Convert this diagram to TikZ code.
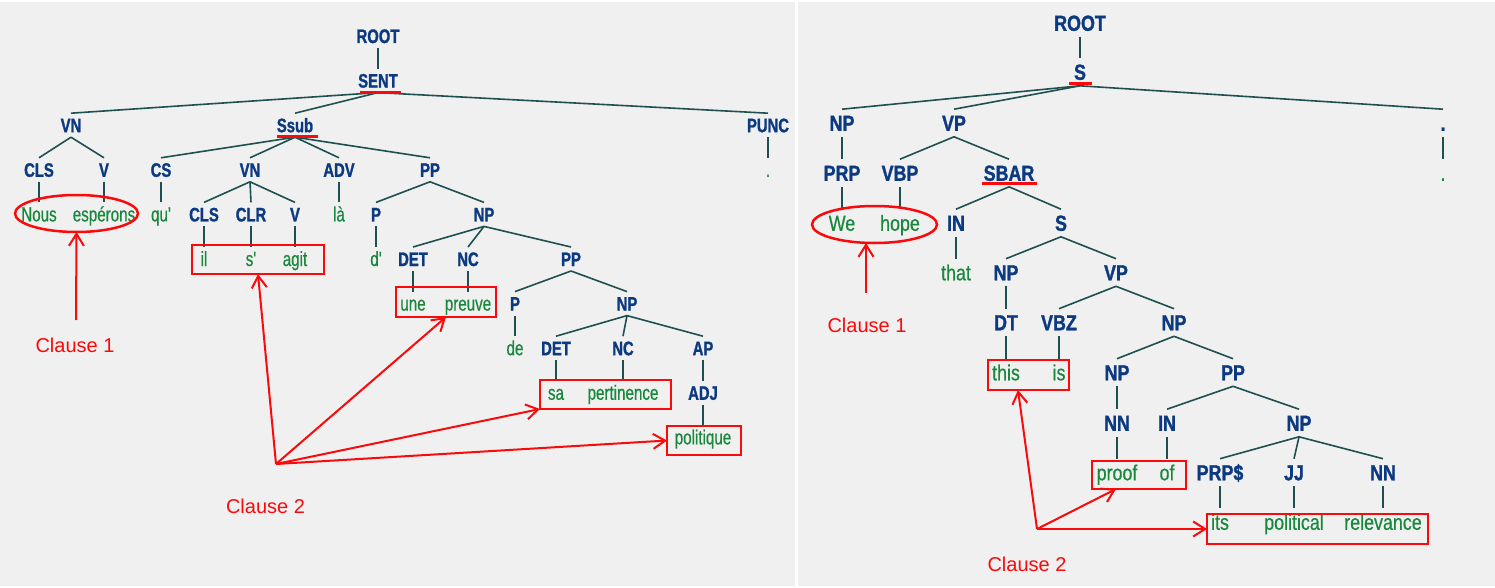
\documentclass[tikz,border=0pt]{standalone}
\usepackage{fontspec}
\setmainfont{Liberation Sans}
\newfontfamily\labf[FakeStretch=0.74,FakeBold=0.5,Ligatures=TeXOff]{Liberation Sans}
\newfontfamily\labbf[FakeStretch=0.76,FakeBold=1.3,Ligatures=TeXOff]{Liberation Sans Bold}
\newfontfamily\rlabf[FakeStretch=0.82,FakeBold=0.5,Ligatures=TeXOff]{Liberation Sans}
\newfontfamily\rlabbf[FakeStretch=0.82,FakeBold=1.3,Ligatures=TeXOff]{Liberation Sans Bold}
\usetikzlibrary{arrows.meta,shapes.geometric}
\definecolor{bgc}{RGB}{240,240,240}
\definecolor{labblue}{RGB}{12,58,128}
\definecolor{wgreen}{RGB}{25,135,60}
\definecolor{tline}{RGB}{30,80,80}
\definecolor{mred}{RGB}{250,10,10}
\tikzset{
 lab/.style={font=\labbf\fontsize{19.5}{22}\selectfont, text=labblue, inner sep=0pt, outer xsep=0pt, outer ysep=5pt, text height=14pt, text depth=0pt, anchor=base},
 wrd/.style={font=\labf\fontsize{20.5}{22}\selectfont, text=wgreen, inner sep=0pt, outer xsep=0pt, outer ysep=5pt, text height=14pt, text depth=0pt, anchor=base},
 rlab/.style={lab, font=\rlabbf\fontsize{21.8}{24}\selectfont, text height=15.6pt, outer ysep=6pt},
 rwrd/.style={wrd, font=\rlabf\fontsize{21.8}{24}\selectfont, text height=15.6pt, outer ysep=6pt},
 edge/.style={draw=tline, line width=1.6pt},
 uline/.style={draw=mred, line width=3pt},
 rbox/.style={draw=mred, line width=2.5pt, rectangle, inner sep=0pt, outer sep=0pt},
 rell/.style={draw=mred, line width=2.5pt, ellipse, inner sep=0pt, outer sep=0pt},
 rarrow/.style={draw=mred, line width=2pt, -{Straight Barb[length=12pt,width=15pt]}},
 clause/.style={font=\fontsize{20}{24}\selectfont, text=mred, inner sep=0pt, anchor=base}
}
\begin{document}
\begin{tikzpicture}[x=1pt,y=-1pt]
\useasboundingbox (0,0) rectangle (1495,588);
\fill[white] (0,0) rectangle (1495,588);
\fill[bgc] (0,2) rectangle (794.5,586);
\fill[bgc] (797.5,2) rectangle (1495,586);
% ---------- left tree ----------
\node[lab] (Lroot) at (378,43) {ROOT};
\node[lab] (Lsent) at (378,87.6) {SENT};
\node[lab] (Lvn1) at (71,132.2) {VN};
\node[lab] (Lssub) at (295,132.2) {Ssub};
\node[lab] (Lpunc) at (768,132.2) {PUNC};
\node[lab] (Lcls1) at (39,176.8) {CLS};
\node[lab] (Lv1) at (104,176.8) {V};
\node[lab] (Lcs) at (161,176.8) {CS};
\node[lab] (Lvn2) at (250,176.8) {VN};
\node[lab] (Ladv) at (339,176.8) {ADV};
\node[lab] (Lpp1) at (430,176.8) {PP};
\node[wrd] (Ldot) at (768,176.8) {.};
\node[wrd] (Lnous) at (39,221.4) {Nous};
\node[wrd] (Lesp) at (104,221.4) {espérons};
\node[wrd] (Lqu) at (161,221.4) {qu'};
\node[lab] (Lcls2) at (204,221.4) {CLS};
\node[lab] (Lclr) at (251,221.4) {CLR};
\node[lab] (Lv2) at (295,221.4) {V};
\node[wrd] (Lla) at (339,221.4) {là};
\node[lab] (Lp1) at (376,221.4) {P};
\node[lab] (Lnp1) at (484,221.4) {NP};
\node[wrd] (Lil) at (204,266) {il};
\node[wrd] (Ls) at (251,266) {s'};
\node[wrd] (Lagit) at (295,266) {agit};
\node[wrd] (Ld) at (376,266) {d'};
\node[lab] (Ldet1) at (413,266) {DET};
\node[lab] (Lnc1) at (468,266) {NC};
\node[lab] (Lpp2) at (571,266) {PP};
\node[wrd] (Lune) at (413,310.6) {une};
\node[wrd] (Lpreuve) at (468,310.6) {preuve};
\node[lab] (Lp2) at (515,310.6) {P};
\node[lab] (Lnp2) at (627,310.6) {NP};
\node[wrd] (Lde) at (515,355.2) {de};
\node[lab] (Ldet2) at (556,355.2) {DET};
\node[lab] (Lnc2) at (623,355.2) {NC};
\node[lab] (Lap) at (703,355.2) {AP};
\node[wrd] (Lsa) at (556,399.8) {sa};
\node[wrd] (Lpert) at (623,399.8) {pertinence};
\node[lab] (Ladj) at (703,399.8) {ADJ};
\node[wrd] (Lpol) at (703,444.4) {politique};
\foreach \a/\b in {Lroot/Lsent, Lsent/Lvn1, Lsent/Lssub, Lsent/Lpunc, Lvn1/Lcls1, Lvn1/Lv1, Lcls1/Lnous, Lv1/Lesp, Lssub/Lcs, Lssub/Lvn2, Lssub/Ladv, Lssub/Lpp1, Lcs/Lqu, Lvn2/Lcls2, Lvn2/Lclr, Lvn2/Lv2, Lcls2/Lil, Lclr/Ls, Lv2/Lagit, Ladv/Lla, Lpp1/Lp1, Lpp1/Lnp1, Lp1/Ld, Lnp1/Ldet1, Lnp1/Lnc1, Lnp1/Lpp2, Ldet1/Lune, Lnc1/Lpreuve, Lpp2/Lp2, Lpp2/Lnp2, Lp2/Lde, Lnp2/Ldet2, Lnp2/Lnc2, Lnp2/Lap, Ldet2/Lsa, Lnc2/Lpert, Lap/Ladj, Ladj/Lpol, Lpunc/Ldot}
  \draw[edge] (\a.south) -- (\b.north);
\draw[uline] ([xshift=-18pt,yshift=-4.5pt]Lsent.base) -- ([xshift=23pt,yshift=-4.5pt]Lsent.base);
\draw[uline] ([xshift=-18pt,yshift=-4pt]Lssub.base) -- ([xshift=23pt,yshift=-4pt]Lssub.base);
% annotations left
\node[rell, minimum width=123pt, minimum height=37pt] (E1) at (76.5,213.5) {};
\node[rbox, minimum width=132pt, minimum height=29pt] (B1) at (258,259.5) {};
\node[rbox, minimum width=100pt, minimum height=30pt] (B2) at (446,302) {};
\node[rbox, minimum width=131pt, minimum height=29pt] (B3) at (605.5,394.5) {};
\node[rbox, minimum width=74pt, minimum height=29pt] (B4) at (704,440.5) {};
\node[clause] (C1) at (75,352) {Clause 1};
\node[clause] (C2) at (265.5,513) {Clause 2};
\coordinate (A1) at (76,320);
\coordinate (O2) at (276,464);
\draw[rarrow] (A1) -- (E1.south);
\draw[rarrow] (O2) -- (B1.south);
\draw[rarrow] (O2) -- (B2.south);
\draw[rarrow] (O2) -- (B3.south west);
\draw[rarrow] (O2) -- (B4.west);
% ---------- right tree ----------
\node[rlab] (Rroot) at (1080,30.8) {ROOT};
\node[rlab] (Rs1) at (1080,79.8) {S};
\node[rlab] (Rnp1) at (842,130.8) {NP};
\node[rlab] (Rvp1) at (954,130.8) {VP};
\node[rlab] (Rdot) at (1443,130.8) {.};
\node[rlab] (Rprp) at (842,180.8) {PRP};
\node[rlab] (Rvbp) at (900,180.8) {VBP};
\node[rlab] (Rsbar) at (1009,180.8) {SBAR};
\node[rwrd] (Rdotw) at (1443,180.8) {.};
\node[rwrd] (Rwe) at (842,230.8) {We};
\node[rwrd] (Rhope) at (900,230.8) {hope};
\node[rlab] (Rin1) at (956,230.8) {IN};
\node[rlab] (Rs2) at (1061,230.8) {S};
\node[rwrd] (Rthat) at (956,280.3) {that};
\node[rlab] (Rnp2) at (1006,280.3) {NP};
\node[rlab] (Rvp2) at (1116,280.3) {VP};
\node[rlab] (Rdt) at (1006,330.3) {DT};
\node[rlab] (Rvbz) at (1059,330.3) {VBZ};
\node[rlab] (Rnp3) at (1174,330.3) {NP};
\node[rwrd] (Rthis) at (1006,380.3) {this};
\node[rwrd] (Ris) at (1059,380.3) {is};
\node[rlab] (Rnp4) at (1117,380.3) {NP};
\node[rlab] (Rpp) at (1233,380.3) {PP};
\node[rlab] (Rnn1) at (1117,430.8) {NN};
\node[rlab] (Rin2) at (1167,430.8) {IN};
\node[rlab] (Rnp5) at (1299,430.8) {NP};
\node[rwrd] (Rproof) at (1117,480.3) {proof};
\node[rwrd] (Rof) at (1167,480.3) {of};
\node[rlab] (Rprps) at (1220,480.3) {PRP\$};
\node[rlab] (Rjj) at (1294,480.3) {JJ};
\node[rlab] (Rnn2) at (1383,480.3) {NN};
\node[rwrd] (Rits) at (1220,529.8) {its};
\node[rwrd] (Rpol) at (1294,529.8) {political};
\node[rwrd] (Rrel) at (1383,529.8) {relevance};
\foreach \a/\b in {Rroot/Rs1, Rs1/Rnp1, Rs1/Rvp1, Rs1/Rdot, Rnp1/Rprp, Rvp1/Rvbp, Rvp1/Rsbar, Rprp/Rwe, Rvbp/Rhope, Rsbar/Rin1, Rsbar/Rs2, Rin1/Rthat, Rs2/Rnp2, Rs2/Rvp2, Rnp2/Rdt, Rvp2/Rvbz, Rvp2/Rnp3, Rdt/Rthis, Rvbz/Ris, Rnp3/Rnp4, Rnp3/Rpp, Rnp4/Rnn1, Rpp/Rin2, Rpp/Rnp5, Rnn1/Rproof, Rin2/Rof, Rnp5/Rprps, Rnp5/Rjj, Rnp5/Rnn2, Rprps/Rits, Rjj/Rpol, Rnn2/Rrel, Rdot/Rdotw}
  \draw[edge] (\a.south) -- (\b.north);
\draw[uline] ([xshift=-11pt,yshift=-3.5pt]Rs1.base) -- ([xshift=12pt,yshift=-3.5pt]Rs1.base);
\draw[uline] ([xshift=-27pt,yshift=-3pt]Rsbar.base) -- ([xshift=28pt,yshift=-3pt]Rsbar.base);
% annotations right
\node[rell, minimum width=125pt, minimum height=37pt] (E2) at (874.5,224.5) {};
\node[rbox, minimum width=81pt, minimum height=30pt] (B5) at (1028.5,375) {};
\node[rbox, minimum width=94pt, minimum height=28pt] (B6) at (1139,475) {};
\node[rbox, minimum width=221pt, minimum height=30pt] (B7) at (1317.5,529) {};
\node[clause] (C3) at (867,332) {Clause 1};
\node[clause] (C4) at (1027,571) {Clause 2};
\coordinate (A2) at (866,293);
\coordinate (O3) at (1037,529);
\draw[rarrow] (A2) -- ([xshift=-8.5pt]E2.south);
\draw[rarrow] (O3) -- ([xshift=-10.5pt]B5.south);
\draw[rarrow] (O3) -- ([xshift=-23pt]B6.south);
\draw[rarrow] (O3) -- (B7.west);
\end{tikzpicture}
\end{document}
